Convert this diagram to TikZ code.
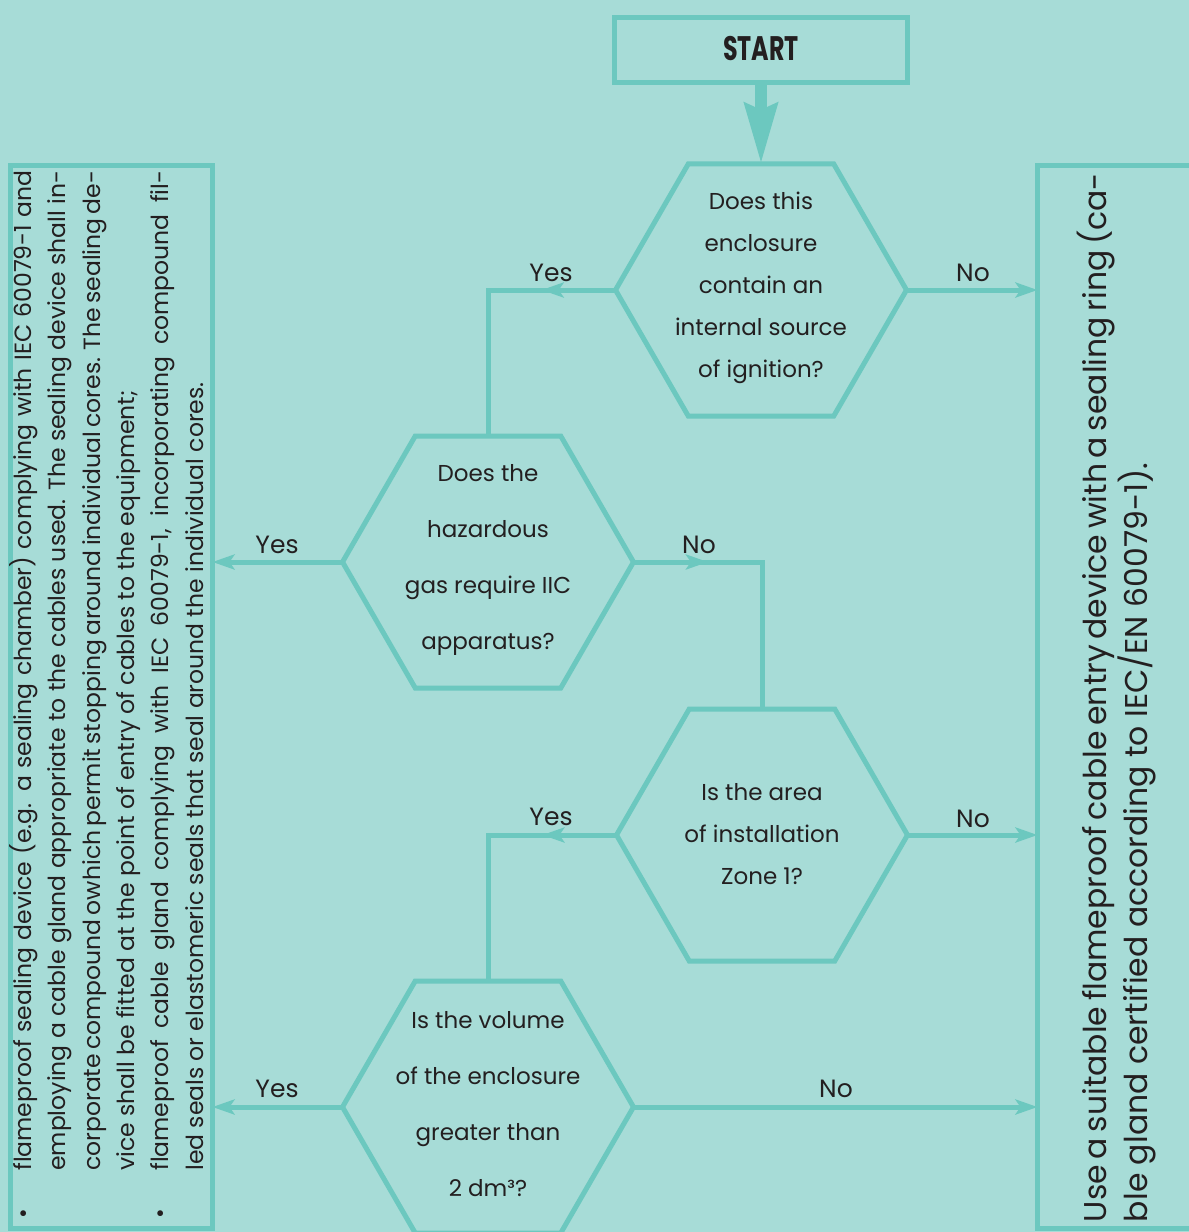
\documentclass[tikz,border=0pt]{standalone}
\usepackage{fontspec}
\setmainfont{Poppins}
\usetikzlibrary{shapes.geometric,arrows.meta,decorations.markings}
\definecolor{bg}{HTML}{A7DCD7}
\definecolor{ln}{HTML}{6CC8BF}
\definecolor{txt}{HTML}{231F20}
\begin{document}
\begin{tikzpicture}[x=1pt,y=-1pt,
  hexa/.style={regular polygon, regular polygon sides=6, minimum size=291pt,
    inner sep=0pt, outer sep=0pt, draw=ln, line width=5pt},
  qtext/.style={align=center, text=txt, inner sep=0pt},
  boxx/.style={rectangle, draw=ln, line width=5pt, inner sep=0pt, outer sep=0pt},
  conn/.style={draw=ln, color=ln, line width=5pt},
  endtip/.style={-{Stealth[length=22pt,width=15pt,inset=5pt]}},
  midarrow/.style={postaction={decorate}, decoration={markings,
    mark=at position #1 with {\arrow{Stealth[length=22pt,width=15pt,inset=5pt]}}}},
  lbl/.style={text=txt, inner sep=0pt, font=\fontsize{25}{30}\selectfont}
]
\fill[bg] (0,0) rectangle (1189,1232);
\clip (0,0) rectangle (1189,1232);

% start box
\node[boxx, minimum width=293pt, minimum height=65pt] (start) at (761,50) {};
\node[text=txt, inner sep=0pt, font=\fontsize{34}{40}\selectfont\bfseries] (starttxt) at (761,49) {\scalebox{0.7}[1]{START}};

% hexagons
\node[hexa] (h1) at (761,290) {};
\node[hexa] (h2) at (488,562) {};
\node[hexa] (h3) at (762,835) {};
\node[hexa] (h4) at (488,1107) {};

\node[qtext, font=\fontsize{23}{42}\selectfont] (t1) at (761,288)
  {Does this\\enclosure\\contain an\\internal source\\of ignition?};
\node[qtext, font=\fontsize{23}{56}\selectfont] (t2) at (488,560)
  {Does the\\hazardous\\gas require IIC\\apparatus?};
\node[qtext, font=\fontsize{23}{42}\selectfont] (t3) at (762,834)
  {Is the area\\of installation\\Zone 1?};
\node[qtext, font=\fontsize{23}{56}\selectfont] (t4) at (488,1104)
  {Is the volume\\of the enclosure\\greater than\\2 dm³?};

% side boxes
\node[boxx, minimum width=202pt, minimum height=1063.5pt] (lbox) at (111.5,696.75) {};
\node[boxx, minimum width=160pt, minimum height=1063.5pt] (rbox) at (1117.5,696.75) {};

\node[rotate=90, inner sep=0pt, text=txt, font=\fontsize{23.5}{34.4}\selectfont] (ltext) at (110.5,694.5) {%
\begin{tabular}{@{}l@{\hspace{38pt}}l@{}}
\textbullet & \makebox[1000pt][s]{flameproof sealing device (e.g. a sealing chamber) complying with IEC 60079-1 and}\\
 & \makebox[1000pt][s]{employing a cable gland appropriate to the cables used. The sealing device shall in-}\\
 & \makebox[1000pt][s]{corporate compound owhich permit stopping around individual cores. The sealing de-}\\
 & \makebox[1000pt][l]{vice shall be fitted at the point of entry of cables to the equipment;}\\
\textbullet & \makebox[1000pt][s]{flameproof cable gland complying with IEC 60079-1, incorporating compound fil-}\\
 & \makebox[1000pt][l]{led seals or elastomeric seals that seal around the individual cores.}
\end{tabular}};

\node[rotate=90, inner sep=0pt, text=txt, font=\fontsize{31.5}{37}\selectfont] (rtext) at (1117.5,698.5) {%
\begin{tabular}{@{}l@{}}
\makebox[1047pt][s]{Use a suitable flameproof cable entry device with a sealing ring (ca-}\\
\makebox[1047pt][l]{ble gland certified according to IEC/EN 60079-1).}
\end{tabular}};

% start arrow
\draw[draw=ln, color=ln, line width=12pt, -{Stealth[length=60pt,width=32pt,inset=6pt]}] (start.south) -- (h1.north);

% connectors
\draw[conn, midarrow=0.27] (h1.west) -| (h2.north);
\draw[conn, endtip] (h1.east) -- (rbox.west |- h1.east);
\draw[conn, endtip] (h2.west) -- (lbox.east |- h2.west);
\draw[conn, midarrow=0.27] (h2.east) -| (h3.north);
\draw[conn, midarrow=0.27] (h3.west) -| (h4.north);
\draw[conn, endtip] (h3.east) -- (rbox.west |- h3.east);
\draw[conn, endtip] (h4.west) -- (lbox.east |- h4.west);
\draw[conn, endtip] (h4.east) -- (rbox.west |- h4.east);

% labels
\node[lbl] (l1) at (551,273) {Yes};
\node[lbl] (l2) at (973,273) {No};
\node[lbl] (l3) at (277,545) {Yes};
\node[lbl] (l4) at (699,545) {No};
\node[lbl] (l5) at (551,817) {Yes};
\node[lbl] (l6) at (973,819) {No};
\node[lbl] (l7) at (277,1089) {Yes};
\node[lbl] (l8) at (836,1089) {No};
\end{tikzpicture}
\end{document}
